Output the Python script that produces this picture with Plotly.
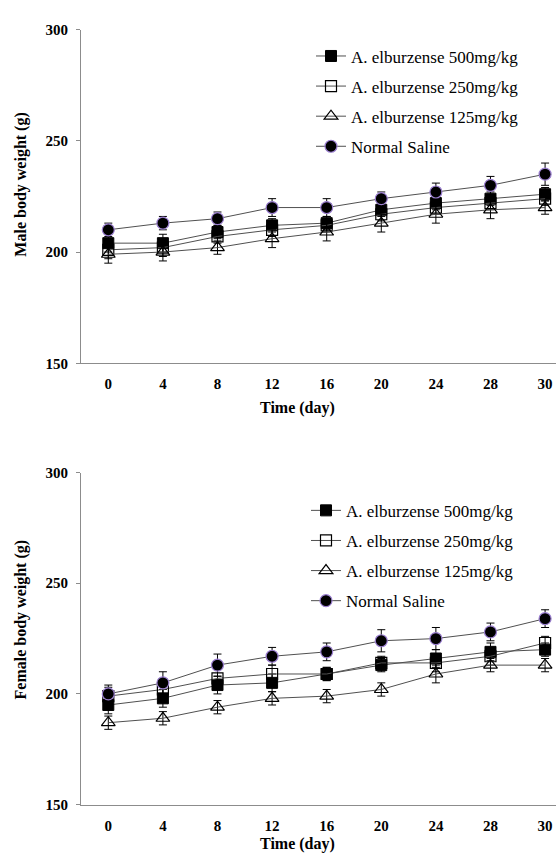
import plotly.graph_objects as go

days = ["0", "4", "8", "12", "16", "20", "24", "28", "30"]
y_ticks = [150, 200, 250, 300]

series_names = ["A. elburzense 500mg/kg", "A. elburzense 250mg/kg",
                "A. elburzense 125mg/kg", "Normal Saline"]

# Male
male_500 = [204, 204, 209, 212, 213, 219, 222, 224, 226]
male_250 = [201, 202, 207, 210, 212, 217, 220, 222, 224]
male_125 = [199, 200, 202, 206, 209, 213, 217, 219, 220]
male_ns = [210, 213, 215, 220, 220, 224, 227, 230, 235]
male_500_err = [4, 4, 3, 3, 3, 3, 3, 3, 3]
male_250_err = [4, 4, 3, 3, 3, 3, 3, 3, 3]
male_125_err = [4, 4, 3, 4, 4, 4, 4, 4, 3]
male_ns_err = [3, 3, 3, 4, 4, 3, 4, 4, 5]

# Female
female_500 = [195, 198, 204, 205, 209, 213, 216, 219, 220]
female_250 = [199, 202, 207, 209, 209, 214, 214, 217, 223]
female_125 = [187, 189, 194, 198, 199, 202, 209, 213, 213]
female_ns = [200, 205, 213, 217, 219, 224, 225, 228, 234]
female_500_err = [4, 4, 4, 4, 3, 3, 4, 4, 3]
female_250_err = [4, 4, 4, 4, 3, 3, 4, 4, 3]
female_125_err = [3, 3, 3, 3, 3, 3, 4, 3, 3]
female_ns_err = [4, 5, 5, 4, 4, 5, 5, 4, 4]

W, H = 556, 861
FONT = "Liberation Serif, Tinos, Times New Roman, DejaVu Serif, serif"
LINE = "#505050"
AX = "#8c8c8c"

styles = [
    dict(symbol="square", size=11, color="black", line=dict(color="black", width=1)),
    dict(symbol="square-open", size=11, color="black", line=dict(color="black", width=1.2)),
    dict(symbol="triangle-up-open", size=12, color="black", line=dict(color="black", width=1.2)),
    dict(symbol="circle", size=12, color="black", line=dict(color="#9b7fd0", width=1.2)),
]

fig = go.Figure()

def add_group(vals, errs, xa, ya, legend, grp):
    for i, (v, e) in enumerate(zip(vals, errs)):
        fig.add_trace(go.Scatter(
            x=days, y=v, name=series_names[i], mode="lines+markers",
            line=dict(color=LINE, width=1),
            marker=styles[i],
            error_y=dict(type="data", array=e, visible=True, color="black",
                         thickness=1, width=4),
            xaxis=xa, yaxis=ya, legend=legend,
            legendgroup=f"{grp}{i}", showlegend=True,
        ))

add_group([male_500, male_250, male_125, male_ns],
          [male_500_err, male_250_err, male_125_err, male_ns_err],
          "x", "y", "legend", "m")
add_group([female_500, female_250, female_125, female_ns],
          [female_500_err, female_250_err, female_125_err, female_ns_err],
          "x2", "y2", "legend2", "f")

def py(p):  # pixel y -> paper
    return 1 - p / H

def px(p):
    return p / W

xcommon = dict(type="category", range=[-0.5, 8.2], showline=True, linecolor=AX,
               linewidth=1, ticks="", showgrid=False, zeroline=False,
               tickfont=dict(family=FONT, size=15, color="black", weight="bold"),
               ticklabelstandoff=7)
ycommon = dict(range=[150, 300], tickvals=y_ticks, showline=True, linecolor=AX,
               linewidth=1, ticks="outside", ticklen=4, tickcolor=AX,
               showgrid=False, zeroline=False,
               tickfont=dict(family=FONT, size=15, color="black", weight="bold"),
               ticklabelstandoff=5)

legcommon = dict(font=dict(family=FONT, size=17, color="black"),
                 bgcolor="rgba(0,0,0,0)", tracegroupgap=5,
                 xanchor="left", yanchor="top", itemclick=False)

title_font = dict(family=FONT, size=16, color="black", weight="bold")

def ann(text, x, y, angle=0):
    return dict(text=text, x=px(x), y=py(y), xref="paper", yref="paper",
                xanchor="center", yanchor="middle", showarrow=False,
                textangle=angle, font=title_font)

fig.update_layout(
    width=W, height=H, margin=dict(l=0, r=0, t=0, b=0),
    paper_bgcolor="white", plot_bgcolor="white",
    font=dict(family=FONT),
    xaxis=dict(domain=[px(81), 1], anchor="y", **xcommon),
    yaxis=dict(domain=[py(362), py(22)], anchor="x", **ycommon),
    xaxis2=dict(domain=[px(81), 1], anchor="y2", **xcommon),
    yaxis2=dict(domain=[py(811.7), py(473.3)], anchor="x2", **ycommon),
    legend=dict(x=px(311), y=py(31), **legcommon),
    legend2=dict(x=px(306), y=py(494), **legcommon),
    annotations=[
        ann("Time (day)", 297, 408),
        ann("Time (day)", 297, 852),
        ann("Male body weight (g)", 21, 180, -90),
        ann("Female body weight (g)", 21, 623, -90),
    ],
)

fig.write_html("out.html", post_script="document.body.style.margin='0';",
               config={"displayModeBar": False})
